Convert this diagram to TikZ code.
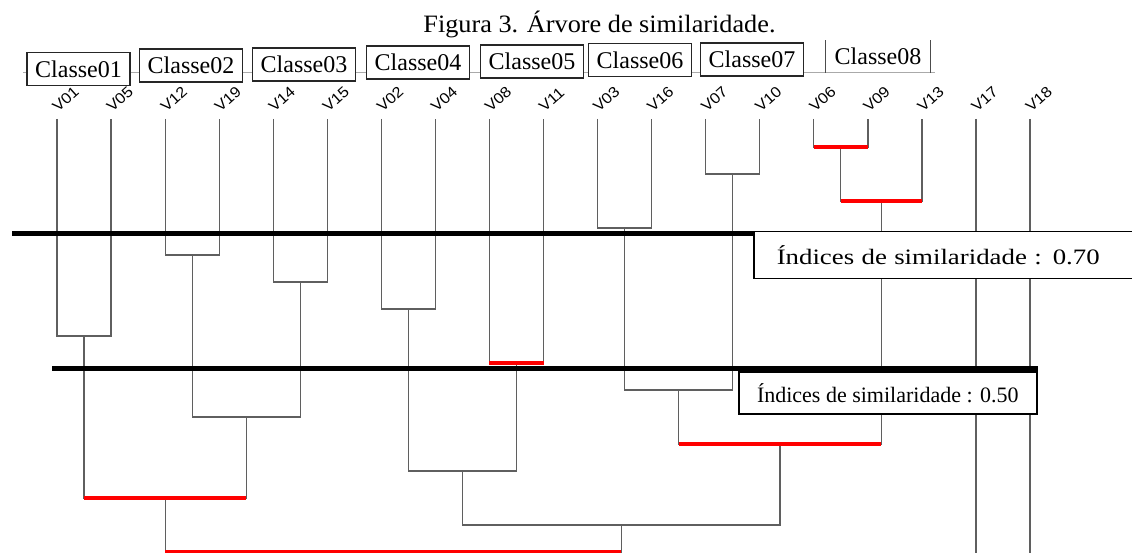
\documentclass[tikz,border=0pt]{standalone}
\usepackage{fontspec}
\setmainfont{Liberation Serif}
\newfontfamily\leaffont[FakeStretch=1.1]{Liberation Sans}
\newfontfamily\captionfont[FakeStretch=1.05]{Liberation Serif}
\newfontfamily\widefont[FakeStretch=1.22]{Liberation Serif}
\usetikzlibrary{positioning, calc}
\definecolor{treegray}{RGB}{95, 95, 95}
\definecolor{railgray}{RGB}{170, 170, 170}

\tikzset{
  branch/.style={draw=treegray, line width=1.2pt},
  redbar/.style={draw=red, line width=4pt},
  cutline/.style={draw=black, line width=5pt},
  classbox/.style={draw=black!85, line width=1.6pt, fill=white, minimum width=103pt, minimum height=33pt, inner sep=0pt, font=\fontsize{24}{24}\selectfont},
  leaflabel/.style={anchor=south west, inner sep=0pt, font=\leaffont\fontsize{15}{15}\selectfont},
  indexbox/.style={draw=black, line width=1.5pt, fill=white, anchor=north west, inner sep=0pt, font=\fontsize{22}{22}\selectfont},
}

\begin{document}
\begin{tikzpicture}[x=1pt, y=-1pt]
  \useasboundingbox (0,0) rectangle (1132,553);

  \node[anchor=base, font=\captionfont\fontsize{25}{25}\selectfont] (caption) at (599.5,33) {Figura 3. Árvore de similaridade.};

  % leaves
  \foreach \v [count=\i] in {V01,V05,V12,V19,V14,V15,V02,V04,V08,V11,V03,V16,V07,V10,V06,V09,V13,V17,V18} {
    \coordinate (\v) at ({57+54.06*(\i-1)},119);
    \node[leaflabel] (lab\v) at ($(\v)+(-6,-6)$) {\rotatebox{42}{\v}};
  }

  % merges: name/left/right/level
  \foreach \m/\a/\b/\k in {A/V06/V09/1, B/V07/V10/2, C/A/V13/3, D/V03/V16/4, E/V12/V19/5, F/V14/V15/6, G/V02/V04/7, H/V01/V05/8, I/V08/V11/9, J/D/B/10, K/E/F/11, L/J/C/12, M/G/I/13, N/H/K/14, O/M/L/15, P/N/O/16} {
    \path ($(\a)!.5!(\b)$) coordinate (mx) (0,{120+27*\k}) coordinate (my);
    \coordinate (\m) at (mx |- my);
    \draw[branch] (\a) |- (\m) -| (\b);
  }
  \coordinate (bottom) at (0,553);
  \draw[branch] (V17) -- (V17 |- bottom);
  \draw[branch] (V18) -- (V18 |- bottom);

  \foreach \m/\a/\b in {A/V06/V09, C/A/V13, I/V08/V11, L/J/C, N/H/K, P/N/O}
    \draw[redbar] (\a |- \m) -- (\b |- \m);

  % similarity boxes and cut lines
  \node[indexbox, minimum height=47pt, text width=397pt, inner xsep=23pt, align=left, font=\widefont\fontsize{22}{22}\selectfont] (idx70) at (753,231) {Índices de similaridade : 0.70};
  \node[indexbox, minimum width=298pt, minimum height=42pt] (idx50) at (738,371) {Índices de similaridade : 0.50};
  \coordinate (cut70) at (12,234);
  \coordinate (cut50) at (52,368);
  \draw[cutline] (cut70) -- (cut70 -| idx70.west);
  \draw[cutline] (cut50) -- (cut50 -| idx50.east);

  % classes
  \coordinate (railL) at (23,72.5);
  \coordinate (railR) at (935,72.5);
  \draw[railgray, line width=1pt] (railL) -- (railR);
  \foreach \c/\x/\y in {01/78.5/69, 02/191/65.5, 03/304/64.5, 04/418/62.5, 05/532/61.5, 06/640/60, 07/752/59.5}
    \node[classbox] (class\c) at (\x,\y) {Classe\c};
  \node[classbox, draw=none, fill=none, minimum height=31pt] (class08) at (878,56.5) {Classe08};
  \draw[black!70, line width=1.4pt] (class08.north west) -- (class08.south west);
  \draw[black!70, line width=1.4pt] (class08.north east) -- (class08.south east);
\end{tikzpicture}
\end{document}
